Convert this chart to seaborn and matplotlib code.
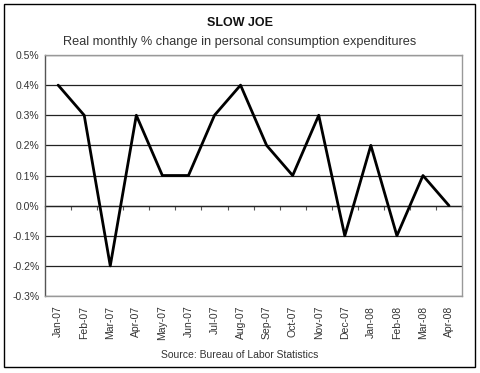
import numpy as np
import pandas as pd
import matplotlib
matplotlib.use("Agg")
import matplotlib.pyplot as plt
import seaborn as sns
from matplotlib.ticker import FuncFormatter

# ----------------------------
# DATA
# ----------------------------
months = ["Jan-07", "Feb-07", "Mar-07", "Apr-07", "May-07", "Jun-07", "Jul-07", "Aug-07",
          "Sep-07", "Oct-07", "Nov-07", "Dec-07", "Jan-08", "Feb-08", "Mar-08", "Apr-08"]
pce_change = [0.4, 0.3, -0.2, 0.3, 0.1, 0.1, 0.3, 0.4,
              0.2, 0.1, 0.3, -0.1, 0.2, -0.1, 0.1, 0.0]
y_ticks = [-0.3, -0.2, -0.1, 0.0, 0.1, 0.2, 0.3, 0.4, 0.5]

df = pd.DataFrame({"month": months, "pce": pce_change})
df["pos"] = np.arange(len(df))

# ----------------------------
# PLOT
# ----------------------------
sns.set_style("white")
plt.rcParams["font.family"] = ["Liberation Sans", "DejaVu Sans"]

fig = plt.figure(figsize=(4.8, 3.73), dpi=100)
ax = fig.add_axes([0.094, 0.2064, 0.8686, 0.6461])

sns.lineplot(data=df, x="pos", y="pce", color="black", linewidth=2, ax=ax, zorder=3)

ax.set_xlim(-0.5, len(months) - 0.5)
ax.set_ylim(-0.3, 0.5)
ax.set_yticks(y_ticks)
ax.yaxis.set_major_formatter(FuncFormatter(lambda v, p: f"{v:.1f}%"))
ax.set_xticks(df["pos"])
ax.set_xticklabels(months, rotation=90, fontsize=7.5, color="#333333")
ax.tick_params(axis="y", labelsize=7.5, labelcolor="#333333", length=0, pad=4)
ax.tick_params(axis="x", length=0, pad=7)
ax.set_xlabel("")
ax.set_ylabel("")
ax.grid(axis="y", color="#222222", linewidth=0.9)
ax.set_axisbelow(True)
for s in ax.spines.values():
    s.set_color("#999999")
    s.set_linewidth(1)
ax.spines["left"].set_color("#555555")

# category axis crossing at zero with boundary ticks
zero_axis = ax.secondary_xaxis(3 / 8)
zero_axis.set_xticks(np.arange(len(months) + 1) - 0.5)
zero_axis.set_xticklabels([])
zero_axis.tick_params(direction="out", length=3, color="#555555", width=0.8)
zero_axis.spines["bottom"].set_color("#222222")
zero_axis.spines["bottom"].set_linewidth(0.9)

fig.text(0.5, 0.937, "SLOW JOE", ha="center", va="center", fontsize=9, fontweight="bold",
         color="#111111")
fig.text(0.5, 0.887, "Real monthly % change in personal consumption expenditures",
         ha="center", va="center", fontsize=9.2, color="#333333")
fig.text(0.5, 0.048, "Source: Bureau of Labor Statistics", ha="center", va="center",
         fontsize=7.5, color="#333333")

fig.patches.append(plt.Rectangle((0.0083, 0.016), 0.981, 0.973, transform=fig.transFigure,
                                 fill=False, edgecolor="black", linewidth=1))

plt.savefig("out.png", dpi=100)
